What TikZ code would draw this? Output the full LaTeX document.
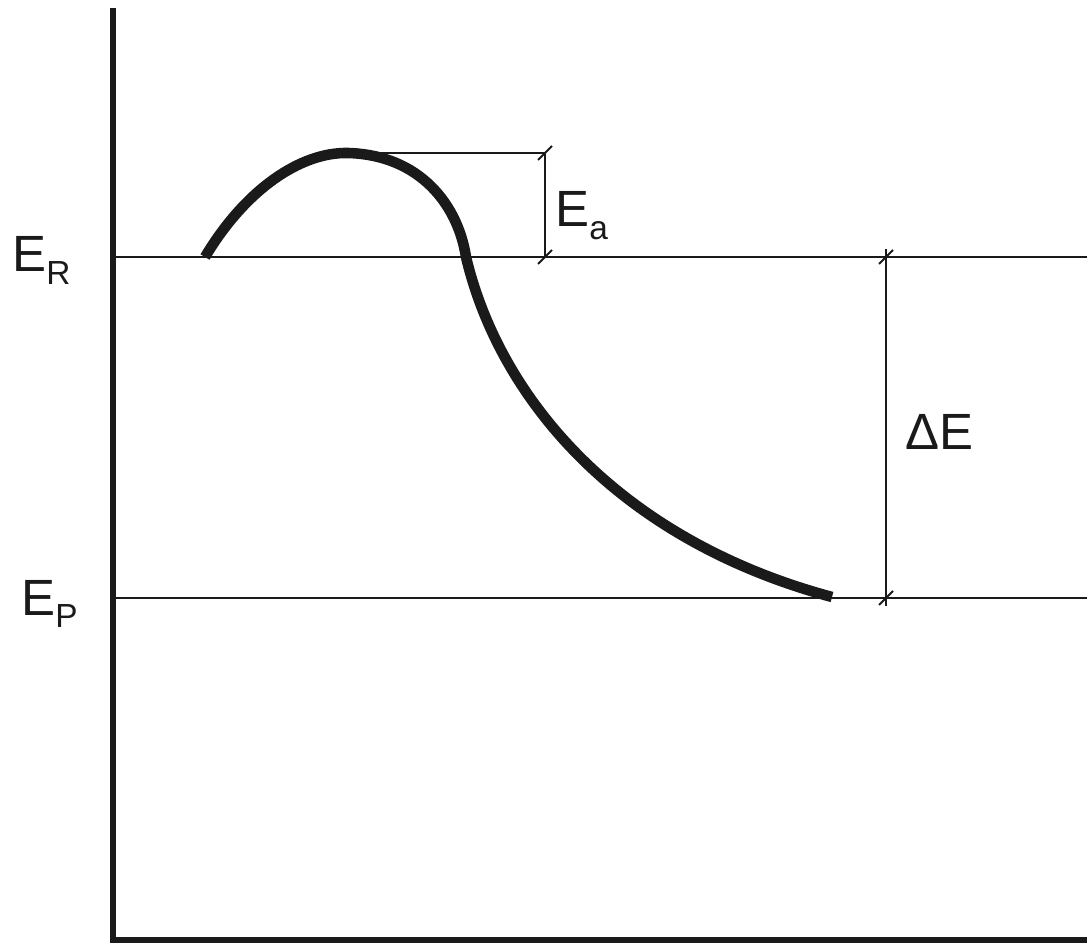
\documentclass[tikz,border=0pt]{standalone}
\usepackage{fontspec}
\setmainfont{Liberation Sans}
\usetikzlibrary{calc}
\definecolor{ink}{HTML}{1A1A1A}

\tikzset{
  axisline/.style={ink,line width=3.2pt},
  levelline/.style={ink,line width=0.9pt},
  dimline/.style={ink,line width=0.8pt},
  tickmark/.style={ink,line width=1.1pt},
  energycurve/.style={ink,line width=6pt},
  levellabel/.style={font=\fontsize{29}{32}\selectfont,text=ink,inner sep=0pt}
}

\newcommand{\dimtick}[1]{\draw[tickmark] ($(#1)+(-7,7)$) -- ($(#1)+(7,-7)$);}
\newcommand{\lowsub}[1]{\raisebox{-7pt}{\fontsize{19}{20}\selectfont #1}}

\begin{document}
\begin{tikzpicture}[x=0.02cm,y=-0.02cm]
\useasboundingbox (0,0) rectangle (1087,945);

% axes
\coordinate (top) at (113,8);
\coordinate (origin) at (113,940);
\coordinate (xend) at (1087,940);
\draw[axisline] (top) -- (origin) -- (xend);

% energy levels
\coordinate (rleft) at (113,257);
\coordinate (rright) at (1087,257);
\coordinate (pleft) at (113,598);
\coordinate (pright) at (1087,598);
\draw[levelline] (rleft) -- (rright);
\draw[levelline] (pleft) -- (pright);

% reaction path
\coordinate (start) at (205,257);
\coordinate (peak) at (348,153);
\coordinate (cross) at (466,257);
\coordinate (finish) at (832,597);
\draw[energycurve] (start) .. controls (245,190) and (300,152) .. (peak)
  .. controls (420,155) and (458,205) .. (cross)
  .. controls (500,400) and (620,540) .. (finish);

% activation energy
\coordinate (eatop) at (545,153);
\coordinate (eabot) at (545,257);
\draw[levelline] (peak) -- (eatop);
\draw[dimline] (eatop) -- (eabot);
\dimtick{eatop}
\dimtick{eabot}

% reaction energy
\coordinate (detop) at (886,257);
\coordinate (debot) at (886,598);
\draw[dimline] ($(detop)+(0,-8)$) -- ($(debot)+(0,8)$);
\dimtick{detop}
\dimtick{debot}

% labels
\node[levellabel,anchor=base west] (lr) at (12,272) {E\lowsub{R}};
\node[levellabel,anchor=base west] (lp) at (21,615) {E\lowsub{P}};
\node[levellabel,anchor=base west] (la) at (555,227) {E\lowsub{a}};
\node[levellabel,anchor=base west] (ld) at (905,449) {ΔE};

\end{tikzpicture}
\end{document}
